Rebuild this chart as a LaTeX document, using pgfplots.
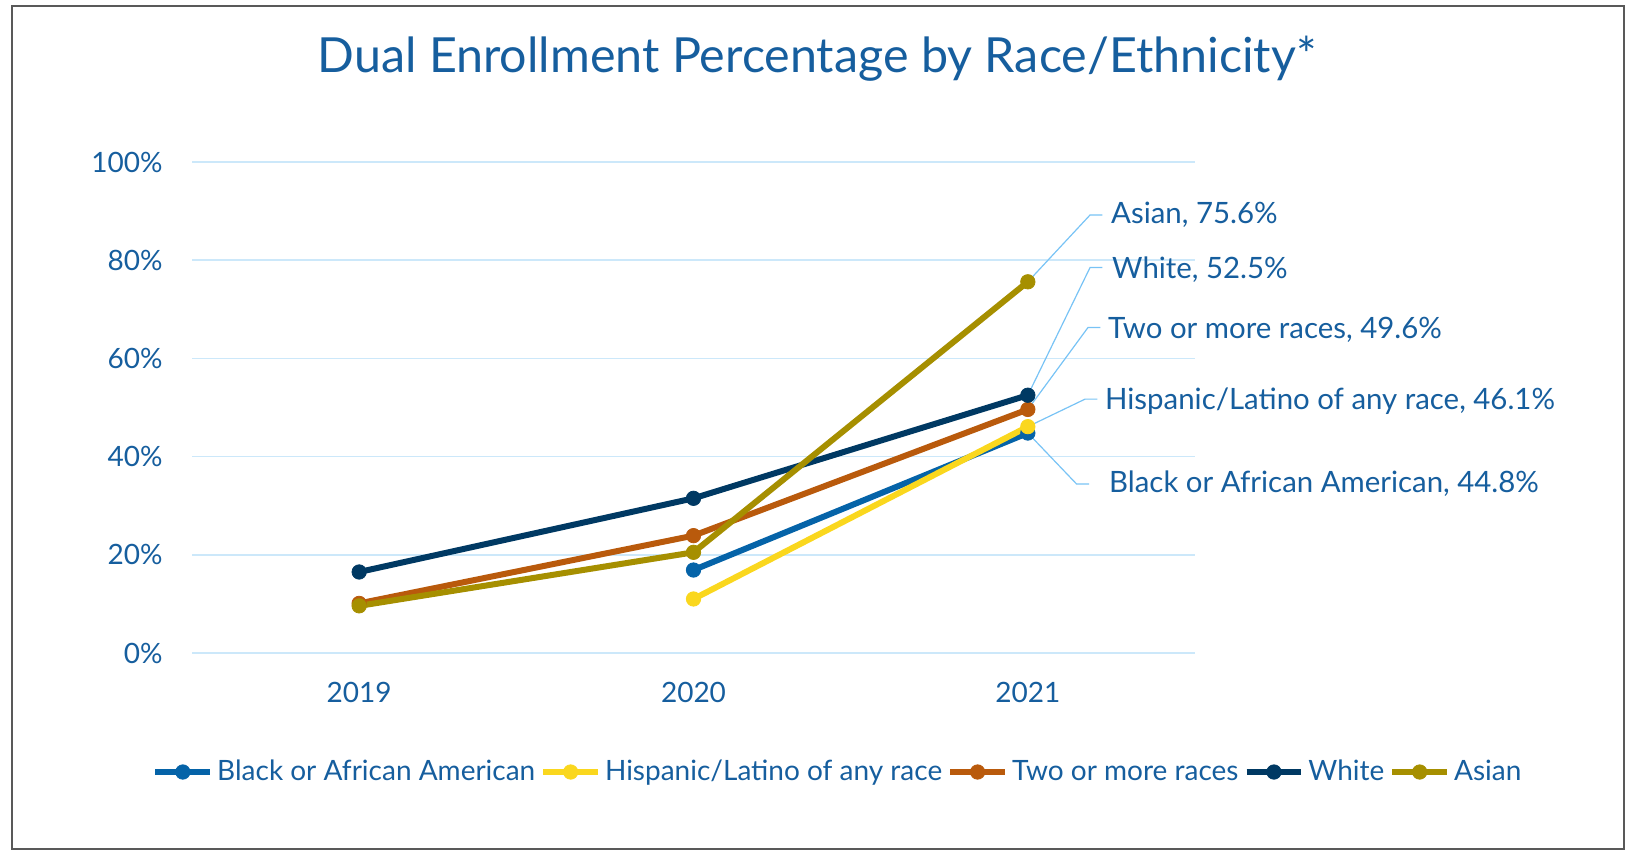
\documentclass[border=0pt]{standalone}
\usepackage{fontspec}
\setmainfont{Lato}
\usepackage{pgfplots}
\pgfplotsset{compat=1.18}
\definecolor{txtblue}{RGB}{22,94,158}
\definecolor{gridblue}{RGB}{204,232,250}
\definecolor{leadblue}{RGB}{120,195,245}
\definecolor{cBlack}{RGB}{5,99,168}
\definecolor{cHisp}{RGB}{250,215,30}
\definecolor{cTwo}{RGB}{185,90,12}
\definecolor{cWhite}{RGB}{0,57,99}
\definecolor{cAsian}{RGB}{166,143,0}
\begin{document}
\begin{tikzpicture}[x=1pt,y=1pt]
\useasboundingbox (0,0) rectangle (813,425);
\draw[black!65, line width=1pt] (6.2,0.6) rectangle (812,422);
\node[text=txtblue, font=\fontsize{24.2}{29}\selectfont, inner sep=0pt] at (408.5,395.5) {Dual Enrollment Percentage by Race/Ethnicity*};
\begin{axis}[
  at={(96pt,98.5pt)}, anchor=south west,
  scale only axis, width=501.5pt, height=245.5pt,
  xmin=-0.5, xmax=2.5, ymin=0, ymax=100,
  xtick={0,1,2}, xticklabels={2019,2020,2021},
  ytick={0,20,40,60,80,100},
  yticklabel={\pgfmathprintnumber{\tick}\%},
  /pgf/number format/assume math mode=true,
  axis line style={draw=none},
  major tick length=0pt,
  ymajorgrids, grid style={gridblue, line width=0.8pt},
  ticklabel style={text=txtblue, font=\fontsize{14}{16}\selectfont},
  xticklabel style={anchor=center, yshift=-19.5pt},
  yticklabel style={anchor=east, inner sep=0pt, xshift=-14.5pt},
  clip=false,
  every axis plot/.append style={line width=3pt, mark=*, mark size=3.6pt, mark options={line width=0.4pt}},
  legend columns=5,
  legend style={at={(0.645,-0.2424)}, anchor=center, draw=none, fill=none,
    font=\fontsize{14}{16}\selectfont, text=txtblue,
    /tikz/every even column/.append style={column sep=0.5pt},
    inner sep=0pt, cells={anchor=west}},
  legend image code/.code={\draw[mark repeat=2,mark phase=2] plot coordinates {(0pt,0pt) (13.7pt,0pt) (27.4pt,0pt)};},
]
\addplot[color=cBlack] coordinates {(1,16.9) (2,44.8)};
\addlegendentry{Black or African American}
\addplot[color=cHisp] coordinates {(1,11.0) (2,46.1)};
\addlegendentry{Hispanic/Latino of any race}
\addplot[color=cTwo] coordinates {(0,10.1) (1,23.9) (2,49.6)};
\addlegendentry{Two or more races}
\addplot[color=cWhite] coordinates {(0,16.5) (1,31.5) (2,52.5)};
\addlegendentry{White}
\addplot[color=cAsian] coordinates {(0,9.6) (1,20.5) (2,75.6)};
\addlegendentry{Asian}

\begin{scope}[leadblue, line width=0.6pt]
\draw (axis cs:2,75.6) -- (axis cs:2.186,89.2) -- (axis cs:2.223,89.2);
\draw (axis cs:2,52.5) -- (axis cs:2.186,78.5) -- (axis cs:2.223,78.5);
\draw (axis cs:2,49.6) -- (axis cs:2.180,66.3) -- (axis cs:2.217,66.3);
\draw (axis cs:2,46.1) -- (axis cs:2.171,51.7) -- (axis cs:2.208,51.7);
\draw (axis cs:2,44.8) -- (axis cs:2.146,34.4) -- (axis cs:2.183,34.4);
\end{scope}
\begin{scope}[every node/.style={anchor=west, inner sep=0pt, text=txtblue, font=\fontsize{14.7}{17}\selectfont}]
\node at (axis cs:2.248,89.2) {Asian, 75.6\%};
\node at (axis cs:2.251,78.1) {White, 52.5\%};
\node at (axis cs:2.239,65.8) {Two or more races, 49.6\%};
\node at (axis cs:2.230,51.3) {Hispanic/Latino of any race, 46.1\%};
\node at (axis cs:2.242,34.4) {Black or African American, 44.8\%};
\end{scope}
\end{axis}
\end{tikzpicture}
\end{document}
